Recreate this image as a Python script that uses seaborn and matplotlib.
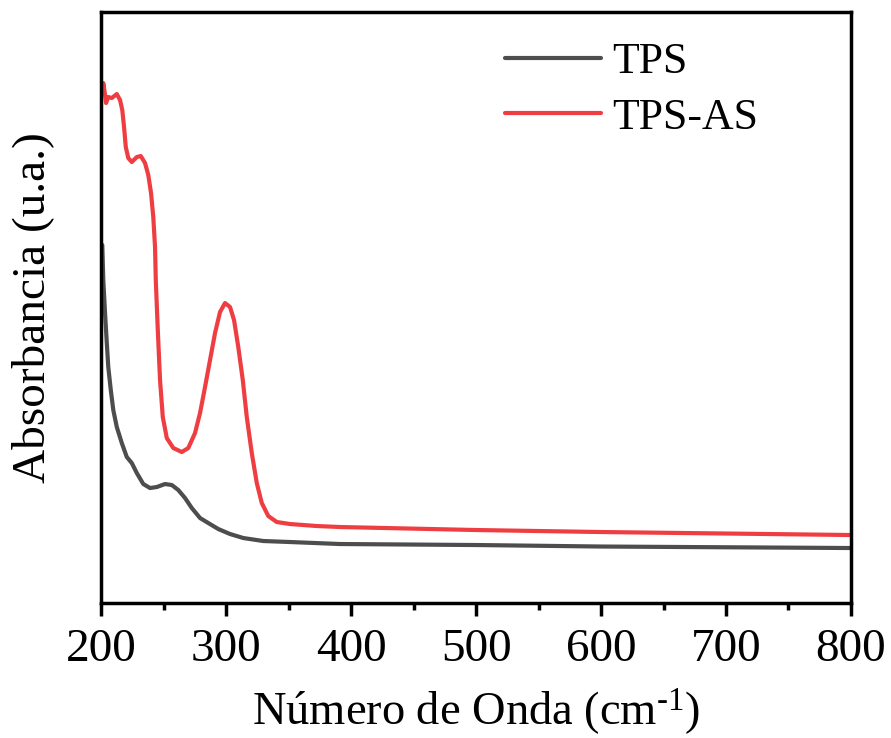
import numpy as np
import pandas as pd
import matplotlib
matplotlib.use("Agg")
import matplotlib.pyplot as plt
from matplotlib.ticker import MultipleLocator
import seaborn as sns

# UV-Vis spectra (arbitrary absorbance units)
tps_wavenumber = [201.0, 201.8, 203.2, 204.6, 205.8, 207.8, 209.8, 212.6, 216.6,
                  220.6, 224.6, 228.6, 233.8, 239.2, 244.6, 251.2, 256.6, 261.8,
                  267.2, 272.6, 279.2, 285.8, 293.8, 303.2, 313.8, 329.8, 351.2,
                  391.2, 500.0, 600.0, 800.0]
tps_absorbance = [0.716, 0.646, 0.580, 0.520, 0.472, 0.426, 0.386, 0.352, 0.320,
                  0.292, 0.280, 0.260, 0.238, 0.230, 0.232, 0.238, 0.236, 0.226,
                  0.210, 0.190, 0.170, 0.160, 0.148, 0.138, 0.130, 0.124, 0.122,
                  0.118, 0.116, 0.113, 0.110]

tpsas_wavenumber = [201.4, 201.8, 203.0, 204.0, 205.8, 208.6, 212.6, 215.2, 217.0,
                    218.4, 219.8, 221.8, 224.6, 228.6, 231.8, 235.2, 237.8, 240.0,
                    241.8, 243.2, 243.8, 245.4, 247.2, 249.4, 252.6, 257.8, 264.6,
                    269.8, 275.2, 279.2, 283.2, 287.2, 291.2, 295.2, 299.2, 303.2,
                    306.4, 309.8, 313.4, 316.6, 320.6, 324.6, 328.6, 333.8, 340.6,
                    351.2, 372.6, 391.2, 500.0, 600.0, 800.0]
tpsas_absorbance = [1.026, 1.040, 1.020, 1.000, 1.012, 1.010, 1.018, 1.006, 0.986,
                    0.952, 0.912, 0.890, 0.882, 0.892, 0.894, 0.880, 0.856, 0.820,
                    0.772, 0.712, 0.646, 0.546, 0.446, 0.372, 0.330, 0.310, 0.302,
                    0.310, 0.340, 0.380, 0.432, 0.486, 0.540, 0.582, 0.600, 0.592,
                    0.566, 0.512, 0.446, 0.372, 0.300, 0.240, 0.200, 0.174, 0.162,
                    0.158, 0.154, 0.152, 0.146, 0.142, 0.136]

x_ticks = [200, 300, 400, 500, 600, 700, 800]

sns.set_style("ticks")
plt.rcParams["font.family"] = ["Liberation Serif", "DejaVu Serif"]
plt.rcParams["mathtext.fontset"] = "custom"
plt.rcParams["mathtext.rm"] = "Liberation Serif"
plt.rcParams["mathtext.it"] = "Liberation Serif:italic"
for key in ["text.color", "axes.labelcolor", "xtick.color", "ytick.color",
            "axes.edgecolor"]:
    plt.rcParams[key] = "black"

fig = plt.figure(figsize=(8.91, 7.38), dpi=100)
ax = fig.add_axes([0.1134, 0.1829, 0.8417, 0.8008])

tps = pd.DataFrame({"x": tps_wavenumber, "y": tps_absorbance})
tpsas = pd.DataFrame({"x": tpsas_wavenumber, "y": tpsas_absorbance})

sns.lineplot(data=tps, x="x", y="y", ax=ax, color="#4d4d4d", lw=3.0,
             label="TPS", sort=False)
sns.lineplot(data=tpsas, x="x", y="y", ax=ax, color="#ef3e42", lw=3.0,
             label="TPS-AS", sort=False)

ax.set_xlim(200, 800)
ax.set_ylim(0, 1.182)
ax.set_xticks(x_ticks)
ax.xaxis.set_minor_locator(MultipleLocator(50))
ax.set_yticks([])

for side in ["left", "right", "top", "bottom"]:
    ax.spines[side].set_visible(True)
    ax.spines[side].set_linewidth(2.5)
    ax.spines[side].set_color("black")

ax.tick_params(axis="x", which="major", direction="out", length=9.5, width=2.5,
               labelsize=34, pad=9, colors="black")
ax.tick_params(axis="x", which="minor", direction="out", length=5, width=2.5)

ax.set_xlabel(r"Número de Onda (cm$^{\text{-1}}$)", fontsize=33.5, labelpad=11)
ax.set_ylabel("Absorbancia (u.a.)", fontsize=34, labelpad=34)

ax.legend(loc="upper left", bbox_to_anchor=(505 / 891, 1 - 42 / 738),
          bbox_transform=fig.transFigure, frameon=False, fontsize=31.5,
          handlelength=2.2, handletextpad=0.25, labelspacing=0.36,
          borderaxespad=0, borderpad=0)

fig.savefig("out.png", dpi=100)
